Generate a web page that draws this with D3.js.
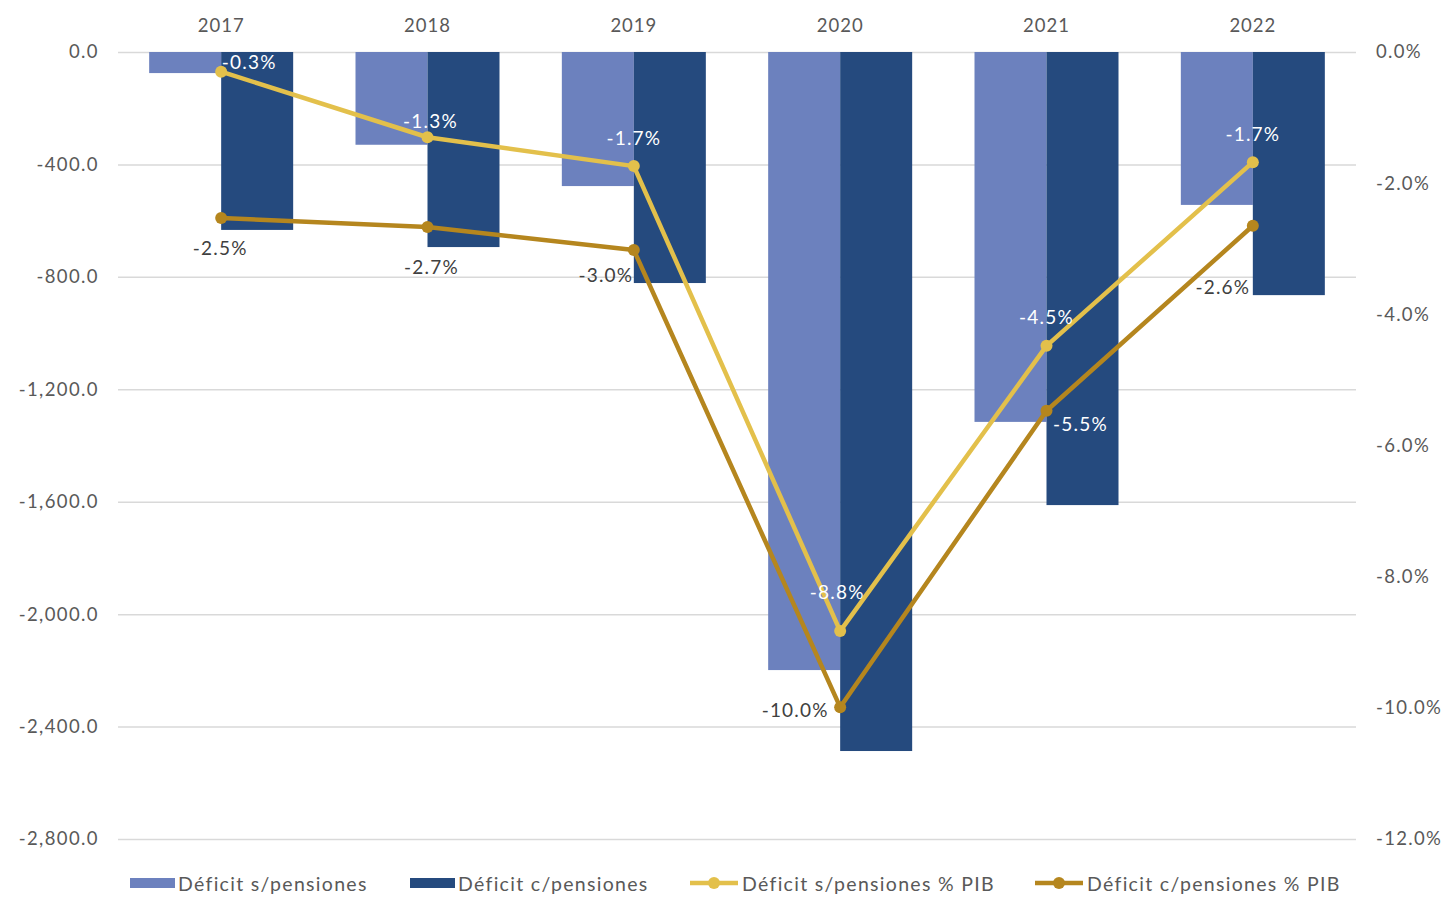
<!DOCTYPE html>
<html>
<head>
<meta charset="utf-8">
<script src="https://cdn.jsdelivr.net/npm/d3@7"></script>
<style>
  html, body { margin: 0; padding: 0; background: #fff; }
  svg { display: block; }
  text { font-family: Lato, "Open Sans", sans-serif; }
</style>
</head>
<body>
<svg id="chart" width="1448" height="897"></svg>
<script>
// ---- data ----
const years = ["2017", "2018", "2019", "2020", "2021", "2022"];
const deficitSinPensiones = [-75, -330, -477, -2199, -1316, -544];
const deficitConPensiones = [-633, -694, -822, -2487, -1612, -865];
const deficitSinPctPIB = [-0.3, -1.3, -1.74, -8.83, -4.48, -1.68];
const deficitConPctPIB = [-2.53, -2.67, -3.02, -9.99, -5.47, -2.65];
const leftTicks = [0, -400, -800, -1200, -1600, -2000, -2400, -2800];
const rightTicks = [0, -2, -4, -6, -8, -10, -12];
const seriesNames = ["Déficit s/pensiones", "Déficit c/pensiones", "Déficit s/pensiones % PIB", "Déficit c/pensiones % PIB"];

// ---- label placement (pixel offsets from the point) ----
const sinLabelOffsets = [[28, -10], [3, -17], [0, -29], [-3, -40], [0, -29], [0, -29]];
const conLabelOffsets = [[-1, 30], [4, 39], [-28, 24], [-45, 2], [34, 13], [-30, 61]];
const conLabelColors = ["#404040", "#404040", "#404040", "#404040", "#ffffff", "#404040"];

const colors = { light: "#6C81BE", dark: "#254A7E", yellow: "#E3C04B", brown: "#B5861E", axis: "#595959", grid: "#D9D9D9" };

const svg = d3.select("#chart");
const plot = { left: 118, right: 1356, top: 52, bottom: 839 };

const x = d3.scaleBand().domain(years).range([plot.left, plot.right]).paddingInner(0).paddingOuter(0);
const yL = d3.scaleLinear().domain([-2800, 0]).range([plot.bottom, plot.top]);
const yR = d3.scaleLinear().domain([-12, 0]).range([plot.bottom, plot.top]);
const barW = 72;
const cx = d => x(d) + x.bandwidth() / 2;

// gridlines
const gridAxis = d3.axisLeft(yL).tickValues(leftTicks).tickSize(-(plot.right - plot.left)).tickFormat("");
const g = svg.append("g").attr("transform", `translate(${plot.left},0)`).call(gridAxis);
g.select(".domain").remove();
g.selectAll("line").attr("stroke", colors.grid).attr("stroke-width", 1.5);

// left axis labels
const fmtL = d => d3.format(",.1f")(d).replace("−", "-");
const la = svg.append("g").attr("transform", `translate(${plot.left},0)`)
  .call(d3.axisLeft(yL).tickValues(leftTicks).tickSize(0).tickPadding(19).tickFormat(fmtL));
la.select(".domain").remove();
la.selectAll("text").attr("fill", colors.axis).style("font-size", "18.5px").style("letter-spacing", "1.4px").attr("font-family", "Lato");

// right axis labels
const fmtR = d => d3.format(".1f")(d).replace("−", "-") + "%";
const ra = svg.append("g").attr("transform", `translate(${plot.right},0)`)
  .call(d3.axisRight(yR).tickValues(rightTicks).tickSize(0).tickPadding(20).tickFormat(fmtR));
ra.select(".domain").remove();
ra.selectAll("text").attr("fill", colors.axis).style("font-size", "18.5px").style("letter-spacing", "1.3px").attr("font-family", "Lato");

// top category labels
const ta = svg.append("g").attr("transform", `translate(0,${plot.top})`)
  .call(d3.axisTop(x).tickSize(0).tickPadding(20));
ta.select(".domain").remove();
ta.selectAll("text").attr("fill", colors.axis).style("font-size", "18.5px").style("letter-spacing", "1px").attr("font-family", "Lato");

// bars
svg.append("g").selectAll("rect").data(years).join("rect")
  .attr("x", d => cx(d) - barW)
  .attr("width", barW)
  .attr("y", yL(0))
  .attr("height", (d, i) => yL(deficitSinPensiones[i]) - yL(0))
  .attr("fill", colors.light);
svg.append("g").selectAll("rect").data(years).join("rect")
  .attr("x", d => cx(d))
  .attr("width", barW)
  .attr("y", yL(0))
  .attr("height", (d, i) => yL(deficitConPensiones[i]) - yL(0))
  .attr("fill", colors.dark);

// lines
function drawLine(vals, color) {
  const line = d3.line().x((d, i) => cx(years[i])).y(d => yR(d));
  svg.append("path").datum(vals).attr("d", line)
    .attr("fill", "none").attr("stroke", color).attr("stroke-width", 4.5).attr("stroke-linejoin", "round");
  svg.append("g").selectAll("circle").data(vals).join("circle")
    .attr("cx", (d, i) => cx(years[i])).attr("cy", d => yR(d)).attr("r", 6).attr("fill", color);
}
drawLine(deficitSinPctPIB, colors.yellow);
drawLine(deficitConPctPIB, colors.brown);

// data labels
const fmtPct = d => d.toFixed(1) + "%";
svg.append("g").selectAll("text").data(deficitSinPctPIB).join("text")
  .attr("x", (d, i) => cx(years[i]) + sinLabelOffsets[i][0])
  .attr("y", (d, i) => yR(d) + sinLabelOffsets[i][1])
  .attr("text-anchor", "middle").attr("dominant-baseline", "central")
  .attr("fill", "#ffffff").style("font-size", "19px").style("letter-spacing", "1.2px")
  .text(fmtPct);
svg.append("g").selectAll("text").data(deficitConPctPIB).join("text")
  .attr("x", (d, i) => cx(years[i]) + conLabelOffsets[i][0])
  .attr("y", (d, i) => yR(d) + conLabelOffsets[i][1])
  .attr("text-anchor", "middle").attr("dominant-baseline", "central")
  .attr("fill", (d, i) => conLabelColors[i]).style("font-size", "19px").style("letter-spacing", "1.2px")
  .text(fmtPct);

// legend
const legendY = 883;
const legendX = [130, 410, 690, 1035];
const legendTypes = ["bar", "bar", "line", "line"];
const legendColors = [colors.light, colors.dark, colors.yellow, colors.brown];
const lg = svg.append("g");
seriesNames.forEach((name, i) => {
  const gx = legendX[i];
  if (legendTypes[i] === "bar") {
    lg.append("rect").attr("x", gx).attr("y", legendY - 5).attr("width", 45).attr("height", 10).attr("fill", legendColors[i]);
  } else {
    lg.append("line").attr("x1", gx).attr("x2", gx + 48).attr("y1", legendY).attr("y2", legendY)
      .attr("stroke", legendColors[i]).attr("stroke-width", 4.5);
    lg.append("circle").attr("cx", gx + 24).attr("cy", legendY).attr("r", 6).attr("fill", legendColors[i]);
  }
  lg.append("text").attr("x", gx + (legendTypes[i] === "bar" ? 48 : 52)).attr("y", legendY)
    .attr("dominant-baseline", "central").attr("fill", colors.axis)
    .style("font-size", "19.5px").style("letter-spacing", "1.3px").text(name);
});
</script>
</body>
</html>
